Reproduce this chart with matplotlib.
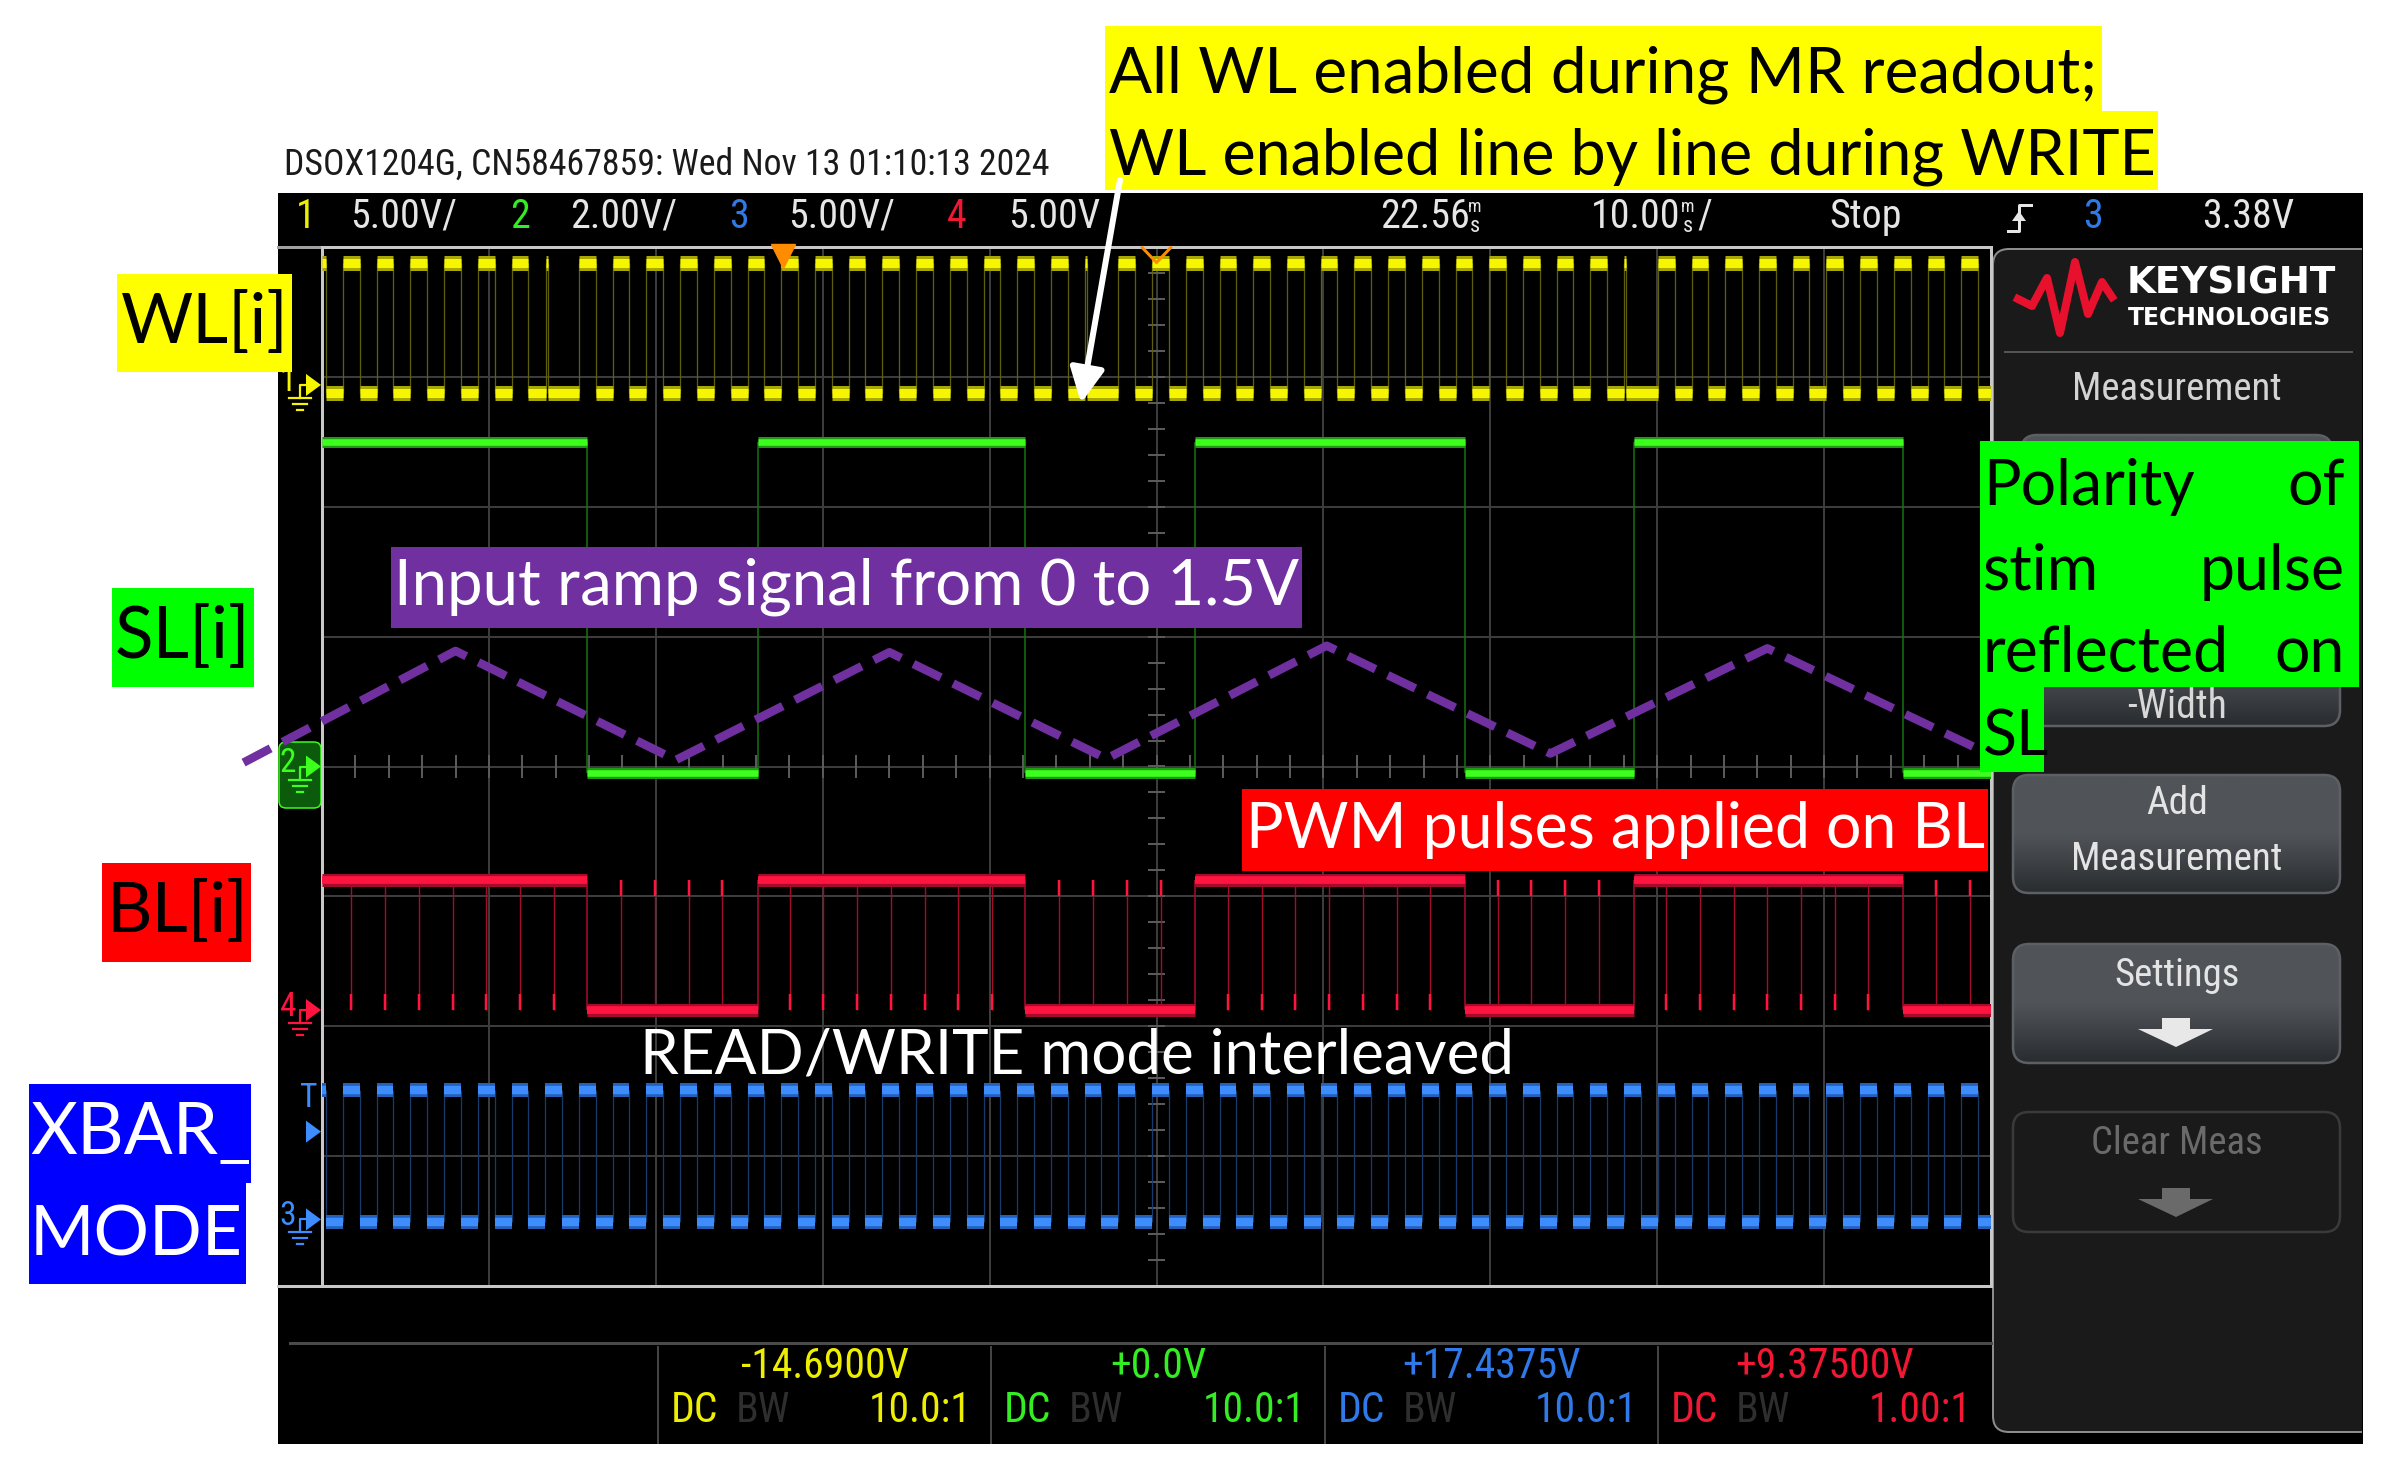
import numpy as np
import matplotlib
matplotlib.use('Agg')
import matplotlib.pyplot as plt
from matplotlib import font_manager as fm
from matplotlib.patches import Rectangle, FancyBboxPatch, Polygon
from matplotlib.colors import LinearSegmentedColormap
from matplotlib.ticker import MultipleLocator

# ---------------- values ----------------
title = 'DSOX1204G, CN58467859: Wed Nov 13 01:10:13 2024'
ch_num = ['1', '2', '3', '4']
ch_scale_txt = ['5.00V/', '2.00V/', '5.00V/', '5.00V']
ch_vdiv = [5.0, 2.0, 5.0, 5.0]
ch_offset = [-14.69, 0.0, 17.4375, 9.375]
ch_offset_txt = ['-14.6900V', '+0.0V', '+17.4375V', '+9.37500V']
ch_probe = ['10.0:1', '10.0:1', '10.0:1', '1.00:1']
t_delay = '22.56'
t_base = '10.00'
run_state = 'Stop'
trig_src = '3'
trig_level = 3.38
trig_level_txt = '3.38V'

# centre of every 2 ms clock pulse (ms from left edge of screen)
clk_t = [-0.26, 1.76, 3.78, 5.80, 7.82, 9.84, 11.86, 13.88, 15.90, 17.92,
         19.94, 21.96, 23.98, 26.00, 28.02, 30.04, 32.06, 34.08, 36.10, 38.12,
         40.14, 42.16, 44.18, 46.20, 48.22, 50.24, 52.26, 54.28, 56.30, 58.32,
         60.34, 62.36, 64.38, 66.40, 68.42, 70.44, 72.46, 74.48, 76.50, 78.52,
         80.54, 82.56, 84.58, 86.60, 88.62, 90.64, 92.66, 94.68, 96.70, 98.72]
clk_width = 1.0
wl_skip = [13.88, 46.20, 78.52]      # WL pulses missing (readout slots)
wl_glitch = [13.45, 45.70, 78.00]    # narrow WL spikes in those slots
glitch_width = 0.12
sl_rise = [0.0, 26.1, 52.3, 78.6]
sl_fall = [15.9, 42.1, 68.5, 94.7]

# logic levels, volts (high, low)
wl_lv = (4.7, -0.3)
sl_lv = (5.0, -0.1)
xb_lv = (5.0, -0.1)
bl_lv = (5.0, 0.0)

# hand drawn ramp overlay (ms, divisions)
ramp_t = [-4.7, 8.0, 21.2, 34.0, 47.0, 60.2, 73.6, 86.6, 99.8]
ramp_y = [0.03, 0.89, 0.05, 0.88, 0.06, 0.93, 0.10, 0.91, 0.10]

trig_mark_t = 27.6
t_ref = 50.0

# ---------------- colours ----------------
YEL, YEL_D, YEL_E = '#f6f600', '#a8a800', '#5e5e0c'
GRN, GRN_D = '#3cff1e', '#1f9a12'
BLU, BLU_D, BLU_E = '#3d8dff', '#2560b8', '#173a6c'
RED, RED_D = '#ff1440', '#a30c2c'
TXT_COL = ['#eeee00', '#33ee22', '#2f7ae8', '#f21834']
ANN = 'Lato'

W, H = 2383, 1462
gx0, gx1, gy0, gy1 = 322, 1991, 247, 1286


def pt(p):
    return p * 0.72


def narrow_font():
    skip = ['Bold', 'Black', 'Italic', 'Thin', 'Light', 'Medium', 'Oblique']
    cands = []
    for f in fm.fontManager.ttflist:
        narrow = f.stretch != 'normal' or 'Narrow' in f.name or 'ondensed' in f.fname
        if narrow and f.style == 'normal' and not any(k in f.fname for k in skip):
            cands.append(f)
    for name in ['Roboto', 'Noto Sans', 'Liberation Sans Narrow', 'DejaVu Sans', 'Open Sans']:
        for f in cands:
            if f.name.startswith(name):
                return fm.FontProperties(fname=f.fname)
    return fm.FontProperties(family='DejaVu Sans')


fp_n = narrow_font()

fig = plt.figure(figsize=(W / 100, H / 100), dpi=100)
fig.patch.set_facecolor('white')
renderer = fig.canvas.get_renderer()

bg = fig.add_axes([0, 0, 1, 1])
bg.set_xlim(0, W)
bg.set_ylim(H, 0)
bg.set_autoscale_on(False)
bg.axis('off')


def fit(axx, x, y, s, width, **kw):
    t = axx.text(x, y, s, fontsize=40, **kw)
    w = t.get_window_extent(renderer).width
    t.set_fontsize(40 * width / w)
    return t


def size_for(s, width, **kw):
    t = bg.text(0, 0, s, fontsize=40, **kw)
    w = t.get_window_extent(renderer).width
    t.remove()
    return 40 * width / w


def ypx(d):
    return (gy0 + gy1) / 2 - d * (gy1 - gy0) / 8


def lv(ch, v):
    return (v - ch_offset[ch]) / ch_vdiv[ch]


# scope screen
bg.add_patch(Rectangle((278, 193), 2085, 1251, fc='black', ec='none', zorder=0))
fit(bg, 284, 165, title, 765, va='center', color='#1a1a1a', fontproperties=fp_n)

# header
fs_h = size_for('5.00V/', 107, fontproperties=fp_n)
hy = 216
hdr = [(296, ch_num[0], TXT_COL[0]), (350, ch_scale_txt[0], '#e6e6e6'),
       (510, ch_num[1], TXT_COL[1]), (570, ch_scale_txt[1], '#e6e6e6'),
       (729, ch_num[2], TXT_COL[2]), (788, ch_scale_txt[2], '#e6e6e6'),
       (947, ch_num[3], TXT_COL[3]), (1008, ch_scale_txt[3], '#e6e6e6'),
       (1380, t_delay, '#e6e6e6'), (1591, t_base, '#e6e6e6'),
       (1829, run_state, '#e6e6e6'), (2083, trig_src, TXT_COL[2]),
       (2202, trig_level_txt, '#e6e6e6')]
for x, s, c in hdr:
    bg.text(x, hy, s, color=c, fontsize=fs_h, va='center', fontproperties=fp_n)
for x in (1468, 1681):
    bg.text(x, 207, 'm', color='#e6e6e6', fontsize=fs_h * 0.45, va='center', fontproperties=fp_n)
    bg.text(x + 2, 226, 's', color='#e6e6e6', fontsize=fs_h * 0.55, va='center', fontproperties=fp_n)
bg.text(1697, hy, '/', color='#e6e6e6', fontsize=fs_h, va='center', fontproperties=fp_n)
bg.plot([2008, 2019, 2019, 2031], [231, 231, 205, 205], color='#e6e6e6', lw=pt(3))
bg.add_patch(Polygon([(2012, 221), (2026, 221), (2019, 211)], closed=True, fc='#e6e6e6', ec='none'))
bg.plot([278, gx0], [gy0, gy0], color='#a0a0a0', lw=pt(3))
bg.plot([278, gx0], [gy1, gy1], color='#c8c8c8', lw=pt(3))

# footer
fs_f = size_for('-14.6900V', 168, fontproperties=fp_n)
seps = [658, 991, 1325, 1658, 1991]
bg.plot([290, gx1], [1343, 1343], color='#4a4a4a', lw=pt(3))
for i in range(4):
    x0, x1 = seps[i], seps[i + 1]
    bg.plot([x0, x0], [1347, 1443], color='#444444', lw=pt(2))
    kw = dict(fontsize=fs_f, va='center', fontproperties=fp_n)
    bg.text((x0 + x1) / 2, 1367, ch_offset_txt[i], color=TXT_COL[i], ha='center', **kw)
    bg.text(x0 + 13, 1410, 'DC', color=TXT_COL[i], **kw)
    bg.text(x0 + 78, 1410, 'BW', color='#2e2e2e', **kw)
    bg.text(x1 - 20, 1410, ch_probe[i], color=TXT_COL[i], ha='right', **kw)

# right hand softkey panel
panel = FancyBboxPatch((1993, 249), 390, 1183, boxstyle='round,pad=0,rounding_size=16',
                       fc='#1a1a1a', ec='#8c8c8c', lw=pt(2), zorder=1)
bg.add_patch(panel)
panel.set_clip_path(Rectangle((278, 193), 2084, 1251, transform=bg.transData))
logo_x = [2018, 2032, 2047, 2060, 2075, 2088, 2102, 2112]
logo_y = [299, 306, 278, 333, 262, 314, 282, 297]
bg.plot(logo_x, logo_y, color='#e8112d', lw=pt(8), solid_joinstyle='round', zorder=3)
fit(bg, 2127, 283, 'KEYSIGHT', 210, va='center', color='white', family='DejaVu Sans', weight='bold', zorder=3)
fit(bg, 2128, 318, 'TECHNOLOGIES', 204, va='center', color='white', family='DejaVu Sans', weight='bold', zorder=3)
bg.plot([2005, 2352], [352, 352], color='#555555', lw=pt(2), zorder=3)
fit(bg, 2177, 390, 'Measurement', 210, ha='center', va='center', color='#d4d4d4', fontproperties=fp_n, zorder=3)


def button(x0, y0, x1, y1, top_c='#505458', bot_c='#2a2d30', edge='#5c6064', fill=True):
    p = FancyBboxPatch((x0, y0), x1 - x0, y1 - y0, boxstyle='round,pad=0,rounding_size=16',
                       fc='none', ec=edge, lw=pt(2.5), zorder=4)
    bg.add_patch(p)
    if fill:
        cm = LinearSegmentedColormap.from_list('btn', [top_c, top_c, bot_c])
        im = bg.imshow(np.linspace(0, 1, 50)[:, None], cmap=cm, aspect='auto',
                       extent=(x0, x1, y1, y0), zorder=3, interpolation='bilinear')
        im.set_clip_path(p)


def down_arrow(y, col):
    bg.add_patch(Polygon([(2162, y), (2190, y), (2190, y + 11), (2213, y + 11), (2176, y + 29),
                          (2138, y + 11), (2162, y + 11)], closed=True, fc=col, ec='none', zorder=5))


button(2021, 435, 2332, 560)
button(2013, 598, 2340, 726)
# only the lower part of this key label peeks out below the green note
wtxt = fit(bg, 2177, 707, '-Width', 100, ha='center', va='center', color='#d8d8d8', fontproperties=fp_n, zorder=5)
wtxt.set_clip_path(Rectangle((2000, 690), 360, 60, transform=bg.transData))
button(2013, 775, 2340, 893)
fit(bg, 2177, 804, 'Add', 62, ha='center', va='center', color='#e4e4e4', fontproperties=fp_n, zorder=5)
fit(bg, 2177, 859, 'Measurement', 212, ha='center', va='center', color='#e4e4e4', fontproperties=fp_n, zorder=5)
button(2013, 944, 2340, 1063)
fit(bg, 2177, 975, 'Settings', 125, ha='center', va='center', color='#e4e4e4', fontproperties=fp_n, zorder=5)
down_arrow(1018, '#e8e8e8')
button(2013, 1112, 2340, 1232, edge='#3a3a3a', fill=False)
fit(bg, 2177, 1143, 'Clear Meas', 172, ha='center', va='center', color='#6a6a6a', fontproperties=fp_n, zorder=5)
down_arrow(1188, '#6a6a6a')


# channel ground markers left of the graticule
def gnd_marker(y, col, digit):
    bg.text(288, y - 3, digit, color=col, fontsize=24, ha='center', va='center', fontproperties=fp_n, zorder=6)
    bg.plot([300, 300, 307], [y + 13, y, y], color=col, lw=pt(2.2), zorder=6)
    for dy, hw in ((13, 11), (19, 7), (25, 3)):
        bg.plot([300 - hw, 300 + hw], [y + dy, y + dy], color=col, lw=pt(2.2), zorder=6)
    bg.add_patch(Polygon([(306, y - 11), (321, y), (306, y + 11)], closed=True, fc=col, ec='none', zorder=6))


bg.add_patch(FancyBboxPatch((279, 742), 42, 66, boxstyle='round,pad=0,rounding_size=7',
                            fc='#0c5a0c', ec=GRN, lw=pt(1.5), zorder=5))
gnd_marker(ypx(lv(0, 0)), YEL, '1')
gnd_marker(ypx(lv(1, 0)), GRN, '2')
gnd_marker(ypx(lv(3, 0)), RED, '4')
gnd_marker(ypx(lv(2, 0)), BLU, '3')
yt = ypx(lv(2, trig_level))
bg.text(309, yt - 34, 'T', color=BLU, fontsize=24, ha='center', va='center', fontproperties=fp_n)
bg.add_patch(Polygon([(306, yt - 11), (321, yt), (306, yt + 11)], closed=True, fc=BLU, ec='none'))

# ---------------- graticule + traces ----------------
ax = fig.add_axes([gx0 / W, 1 - gy1 / H, (gx1 - gx0) / W, (gy1 - gy0) / H])
ax.set_xlim(0, 100)
ax.set_ylim(-4, 4)
ax.set_facecolor('black')
ax.xaxis.set_major_locator(MultipleLocator(10))
ax.yaxis.set_major_locator(MultipleLocator(1))
ax.grid(True, color='#3c3c3c', lw=pt(2))
ax.set_axisbelow(True)
ax.tick_params(length=0, labelbottom=False, labelleft=False)
for s in ax.spines.values():
    s.set_color('#c8c8c8')
    s.set_linewidth(pt(3))
ax.vlines(np.arange(0, 100.1, 2), -0.09, 0.09, color='#5a5a5a', lw=pt(2))
ax.hlines(np.arange(-4, 4.01, 0.2), 49.5, 50.5, color='#5a5a5a', lw=pt(2))


def levels(iv, t0=0.0, t1=100.0):
    iv = sorted((max(a, t0), min(b, t1)) for a, b in iv if b > t0 and a < t1)
    lows, cur = [], t0
    for a, b in iv:
        if a > cur:
            lows.append((cur, a))
        cur = max(cur, b)
    if cur < t1:
        lows.append((cur, t1))
    edges = [x for a, b in iv for x in (a, b) if t0 < x < t1]
    return iv, lows, edges


def draw_digital(iv, hi, lo, col, dim, edge, thick, edge_lw=1.3):
    highs, lows, edges = levels(iv)
    ax.vlines(edges, lo, hi, colors=edge, lw=pt(edge_lw), zorder=3)
    for y, segs in ((hi, highs), (lo, lows)):
        a = [s[0] for s in segs]
        b = [s[1] for s in segs]
        ax.hlines([y] * len(segs), a, b, colors=dim, lw=pt(thick), capstyle='butt', zorder=4)
        ax.hlines([y] * len(segs), a, b, colors=col, lw=pt(thick * 0.6), capstyle='butt', zorder=5)


# WL (ch1)
wl_iv = [(c - clk_width / 2, c + clk_width / 2) for c in clk_t if c not in wl_skip]
wl_iv += [(g, g + glitch_width) for g in wl_glitch]
draw_digital(wl_iv, lv(0, wl_lv[0]), lv(0, wl_lv[1]), YEL, YEL_D, YEL_E, 15)

# SL (ch2)
sl_iv = list(zip(sl_rise, sl_fall))
draw_digital(sl_iv, lv(1, sl_lv[0]), lv(1, sl_lv[1]), GRN, GRN_D, '#157010', 11, 1.6)

# BL (ch4) with PWM spikes
bl_hi, bl_lo = lv(3, bl_lv[0]), lv(3, bl_lv[1])
for c in clk_t:
    if c < 0 or any(abs(c - e) < 0.4 for e in sl_rise + sl_fall):
        continue
    is_high = any(a <= c <= b for a, b in sl_iv)
    ax.vlines(c, bl_lo, bl_hi, colors=RED_D, lw=pt(1.4), zorder=3)
    if is_high:
        ax.vlines(c, bl_lo, bl_lo + 0.12, colors=RED, lw=pt(2.5), zorder=3)
    else:
        ax.vlines(c, bl_hi - 0.12, bl_hi, colors=RED, lw=pt(2.5), zorder=3)
draw_digital(sl_iv, bl_hi, bl_lo, RED, RED_D, RED_D, 13, 1.6)

# XBAR_MODE (ch3)
xb_iv = [(c - clk_width / 2, c + clk_width / 2) for c in clk_t]
draw_digital(xb_iv, lv(2, xb_lv[0]), lv(2, xb_lv[1]), BLU, BLU_D, BLU_E, 14)

# trigger / reference markers
ax.plot([trig_mark_t], [3.93], marker='v', ms=17, color='#ff8c00', clip_on=False, zorder=7)
ax.plot([t_ref - 0.85, t_ref, t_ref + 0.85], [3.995, 3.88, 3.995], color='#ff8c00', lw=pt(3), clip_on=False, zorder=7)

# ramp overlay
ax.plot(ramp_t, ramp_y, color='#7030a0', lw=pt(8.5), ls=(0, (3.6, 1.6)), dash_capstyle='butt',
        clip_on=False, zorder=10)

# ---------------- annotation overlay ----------------
top = fig.add_axes([0, 0, 1, 1])
top.set_xlim(0, W)
top.set_ylim(H, 0)
top.set_autoscale_on(False)
top.axis('off')

boxes = [(1105, 26, 2102, 111, '#ffff00'), (1105, 111, 2158, 190, '#ffff00'),
         (117, 274, 292, 372, '#ffff00'), (112, 588, 254, 687, '#00ff00'),
         (102, 863, 251, 962, '#ff0000'), (29, 1084, 251, 1183, '#0000ff'),
         (29, 1183, 246, 1284, '#0000ff'), (391, 547, 1302, 628, '#7030a0'),
         (1242, 789, 1988, 871, '#ff0000'), (1980, 441, 2359, 687, '#00ff00'),
         (1980, 687, 2044, 772, '#00ff00')]
for x0, y0, x1, y1, c in boxes:
    top.add_patch(Rectangle((x0, y0), x1 - x0, y1 - y0, fc=c, ec='none'))

fit(top, 1109, 92, 'All WL enabled during MR readout;', 987, va='baseline', family=ANN, color='black')
fit(top, 1109, 175, 'WL enabled line by line during WRITE', 1046, va='baseline', family=ANN, color='black')
fit(top, 205, 323, 'WL[i]', 167, ha='center', va='center', family=ANN, color='black')
fit(top, 183, 637, 'SL[i]', 135, ha='center', va='center', family=ANN, color='black')
fit(top, 177, 912, 'BL[i]', 141, ha='center', va='center', family=ANN, color='black')
fit(top, 30, 1134, 'XBAR_', 221, va='center', family=ANN, color='white')
fit(top, 30, 1236, 'MODE', 213, va='center', family=ANN, color='white')
fit(top, 394, 587, 'Input ramp signal from 0 to 1.5V', 906, va='center', family=ANN, color='white')
fit(top, 1246, 830, 'PWM pulses applied on BL', 739, va='center', family=ANN, color='white')
fit(top, 640, 1056, 'READ/WRITE mode interleaved', 874, va='center', family=ANN, color='white')

fs_g = size_for('Polarity', 212, family=ANN)
green_rows = [(505, 'Polarity', 'of'), (590, 'stim', 'pulse'), (672, 'reflected', 'on'), (756, 'SL', '')]
for y, left, right in green_rows:
    top.text(1983, y, left, fontsize=fs_g, va='baseline', family=ANN, color='black')
    if right:
        top.text(2345, y, right, fontsize=fs_g, ha='right', va='baseline', family=ANN, color='black')

top.annotate('', xy=(1081, 403), xytext=(1120, 180),
             arrowprops=dict(arrowstyle='-|>,head_length=0.6,head_width=0.3', color='white',
                             lw=pt(6), mutation_scale=35, shrinkA=0, shrinkB=0))

fig.savefig('out.png', dpi=100)
